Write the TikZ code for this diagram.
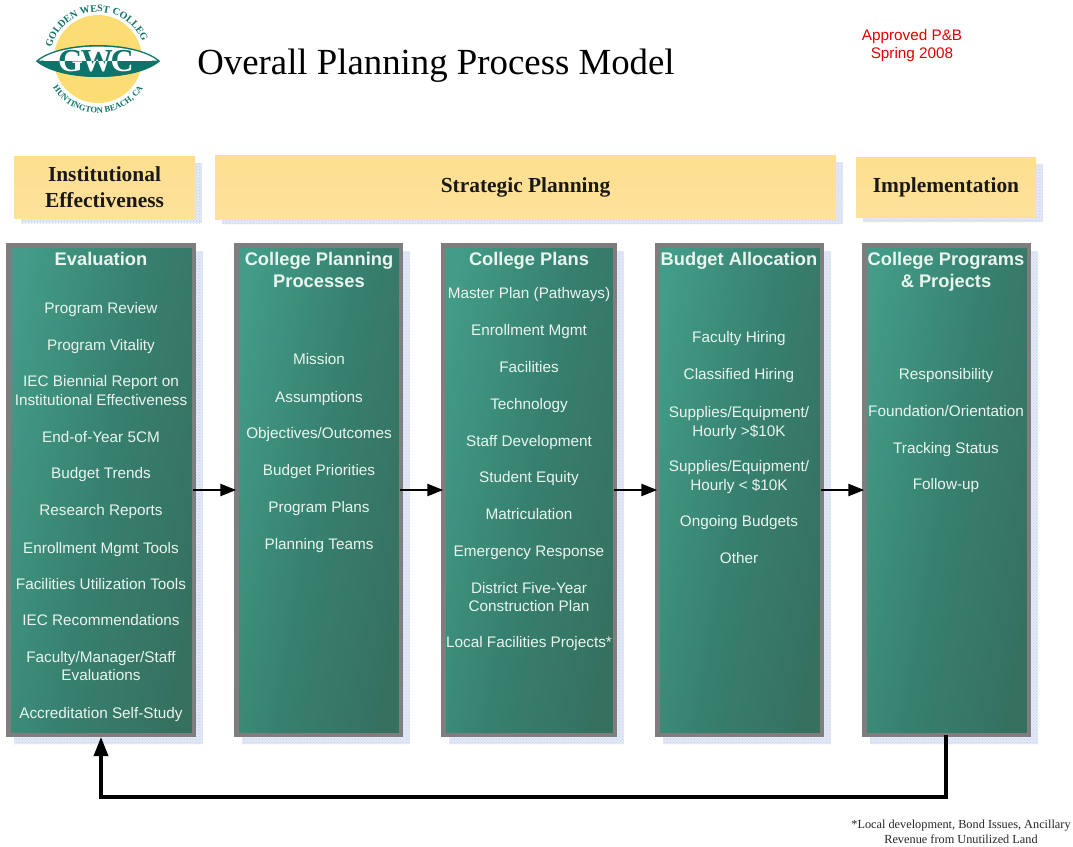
\documentclass[tikz,border=0pt]{standalone}
\usepackage{fontspec}
\setmainfont{Liberation Serif}
\setsansfont{Liberation Sans}
\usetikzlibrary{arrows.meta,decorations.text,patterns}
\definecolor{teal1}{HTML}{429C87}
\definecolor{teal2}{HTML}{37806F}
\definecolor{teal3}{HTML}{36705F}
\definecolor{logoteal}{HTML}{0E7469}
\definecolor{sunny}{HTML}{FDDF8F}
\definecolor{sunnyb}{HTML}{FEE29A}
\definecolor{sunball}{HTML}{FBDD74}
\definecolor{shade}{HTML}{E3E9F6}
\definecolor{shadedot}{HTML}{C4D0EA}
\definecolor{rim}{HTML}{7E7E7E}
\definecolor{mint}{HTML}{EAF5EF}
\tikzset{
  x=1pt,y=-1pt,
  hdrbox/.style={anchor=north west,inner sep=0pt,outer sep=0pt,draw=none,top color=sunny,bottom color=sunnyb,font=\rmfamily\bfseries\fontsize{21.4}{26}\selectfont,align=center,text=black!90},
  shadebox/.style={fill=shade,draw=none,postaction={pattern=crosshatch dots,pattern color=shadedot}},
  panel/.style={anchor=north west,inner sep=0pt,outer sep=0pt,draw=rim,line width=4.5pt,left color=teal1,right color=teal3,middle color=teal2,shading angle=80},
  paneltitle/.style={font=\sffamily\bfseries\fontsize{18.3}{22}\selectfont,text=mint,align=center},
  item/.style={font=\sffamily\fontsize{15.3}{18.4}\selectfont,text=mint,align=center,inner sep=0pt},
  flow/.style={draw=black,line width=2.6pt,-{Triangle[length=16pt,width=12pt]}},
  back/.style={draw=black,line width=3.4pt,-{Triangle[length=19pt,width=14pt]}},
}
\newcommand{\hdr}[6]{% name x1 y1 x2 y2 text
  \fill[shadebox] (#2+7,#3+7) rectangle (#4+7,#5+5);
  \node[hdrbox,minimum width=#4pt-#2pt,minimum height=#5pt-#3pt] (#1) at (#2,#3) {#6};
}
\newcommand{\pan}[5]{% name x1 y1 x2 y2
  \fill[shadebox] (#2+8,#3+8) rectangle (#4+7,#5+7);
  \node[panel,minimum width=#4pt-#2pt-4.5pt,minimum height=#5pt-#3pt-4.5pt] (#1) at (#2+2.25,#3+2.25) {};
}
\begin{document}
\begin{tikzpicture}
\useasboundingbox (0,0) rectangle (1073,846);
\fill[white] (0,0) rectangle (1073,846);
% logo
\fill[sunball] (98,59) circle (44);
\fill[logoteal] (36,61) .. controls (60,39.7) and (136,39.7) .. (160,61) .. controls (136,82.3) and (60,82.3) .. (36,61) -- cycle;
\fill[white] (39,60.5) .. controls (62,42) and (134,42) .. (157,60.5) .. controls (130,62) and (66,62) .. (39,60.5) -- cycle;
\node[inner sep=0pt,font=\rmfamily\bfseries\fontsize{32}{32}\selectfont,text=logoteal] (gwc) at (96,61) {\addfontfeature{LetterSpace=-7}GWC};
\begin{scope}
\clip (30,61) rectangle (166,85);
\fill[logoteal] (36,61) .. controls (60,61) and (136,61) .. (160,61) .. controls (136,82.3) and (60,82.3) .. (36,61) -- cycle;
\node[inner sep=0pt,font=\rmfamily\bfseries\fontsize{32}{32}\selectfont,text=white] (gwclow) at (96,61) {\addfontfeature{LetterSpace=-7}GWC};
\end{scope}
\path[postaction={decorate},decoration={text along path,text align=center,text={|\rmfamily\bfseries\fontsize{10}{10}\selectfont\color{logoteal}|GOLDEN WEST COLLEGE}}] (53.8,41.2) .. controls (70.4,2.3) and (125.6,2.3) .. (142.2,41.2);
\path[postaction={decorate},decoration={text along path,text align=center,text={|\rmfamily\bfseries\fontsize{8.5}{8}\selectfont\color{logoteal}|HUNTINGTON BEACH, CA}}] (51.2,84.9) .. controls (71.1,122.4) and (124.9,122.4) .. (144.8,84.9);
% titles
\node[inner sep=0pt,font=\rmfamily\fontsize{36.8}{40}\selectfont,text=black] (title) at (436,66) {Overall Planning Process Model};
\node[inner sep=0pt,font=\sffamily\fontsize{15.3}{18}\selectfont,text=red!90!black,align=center] (approved) at (912,46) {Approved P\&B\\Spring 2008};
% headers
\hdr{h1}{14}{156}{195}{218}{Institutional\\Effectiveness}
\hdr{h2}{215}{155}{836}{219}{\raisebox{-2pt}{Strategic Planning}}
\hdr{h3}{856}{157}{1036}{217}{\raisebox{-2pt}{Implementation}}
% panels
\pan{p1}{6}{243}{196}{737}
\pan{p2}{234}{243}{403}{737}
\pan{p3}{441}{243}{617}{737}
\pan{p4}{655}{243}{824}{737}
\pan{p5}{862}{243}{1031}{737}
% panel titles
\node[paneltitle] (t1) at (101,259) {Evaluation};
\node[paneltitle] (t2) at (319,270) {College Planning\\Processes};
\node[paneltitle] (t3) at (529,261) {College Plans};
\node[paneltitle] (t4) at (739,261) {Budget Allocation};
\node[paneltitle] (t5) at (946,271.5) {College Programs\\\& Projects};
% panel 1
\node[item] (a1) at (101,310) {Program Review};
\node[item] (a2) at (101,347) {Program Vitality};
\node[item] (a3) at (101,390.5) {IEC Biennial Report on\\Institutional Effectiveness};
\node[item] (a4) at (101,437) {End-of-Year 5CM};
\node[item] (a5) at (101,475) {Budget Trends};
\node[item] (a6) at (101,512) {Research Reports};
\node[item] (a7) at (101,550) {Enrollment Mgmt Tools};
\node[item] (a8) at (101,584) {Facilities Utilization Tools};
\node[item] (a9) at (101,620) {IEC Recommendations};
\node[item] (a10) at (101,666) {Faculty/Manager/Staff\\Evaluations};
\node[item] (a11) at (101,715) {Accreditation Self-Study};
% panel 2
\node[item] (b1) at (319,359) {Mission};
\node[item] (b2) at (319,399) {Assumptions};
\node[item] (b3) at (319,435) {Objectives/Outcomes};
\node[item] (b4) at (319,472) {Budget Priorities};
\node[item] (b5) at (319,509) {Program Plans};
\node[item] (b6) at (319,546) {Planning Teams};
% panel 3
\node[item] (c1) at (529,295) {Master Plan (Pathways)};
\node[item] (c2) at (529,332) {Enrollment Mgmt};
\node[item] (c3) at (529,367) {Facilities};
\node[item] (c4) at (529,406) {Technology};
\node[item] (c5) at (529,443) {Staff Development};
\node[item] (c6) at (529,479) {Student Equity};
\node[item] (c7) at (529,514) {Matriculation};
\node[item] (c8) at (529,553) {Emergency Response};
\node[item] (c9) at (529,597) {District Five-Year\\Construction Plan};
\node[item] (c10) at (529,644) {Local Facilities Projects*};
% panel 4
\node[item] (d1) at (739,339) {Faculty Hiring};
\node[item] (d2) at (739,376) {Classified Hiring};
\node[item] (d3) at (739,423) {Supplies/Equipment/\\Hourly >\$10K};
\node[item] (d4) at (739,477) {Supplies/Equipment/\\Hourly < \$10K};
\node[item] (d5) at (739,523) {Ongoing Budgets};
\node[item] (d6) at (739,558) {Other};
% panel 5
\node[item] (e1) at (946,376) {Responsibility};
\node[item] (e2) at (946,411) {Foundation/Orientation};
\node[item] (e3) at (946,450) {Tracking Status};
\node[item] (e4) at (946,486) {Follow-up};
% connectors
\coordinate (f1) at (193,490); \coordinate (f2) at (400,490);
\coordinate (f3) at (614,490); \coordinate (f4) at (821,490);
\draw[flow] (f1) -- (f1 -| p2.west);
\draw[flow] (f2) -- (f2 -| p3.west);
\draw[flow] (f3) -- (f3 -| p4.west);
\draw[flow] (f4) -- (f4 -| p5.west);
\coordinate (bs) at (946,735);
\coordinate (be) at (101,737);
\draw[back] (bs) -- (946,797) -- (101,797) -- (be);
% footnote
\node[inner sep=0pt,font=\rmfamily\fontsize{12.3}{15}\selectfont,text=black!85,align=center] (note) at (961,832) {*Local development, Bond Issues, Ancillary\\Revenue from Unutilized Land};
\end{tikzpicture}
\end{document}
